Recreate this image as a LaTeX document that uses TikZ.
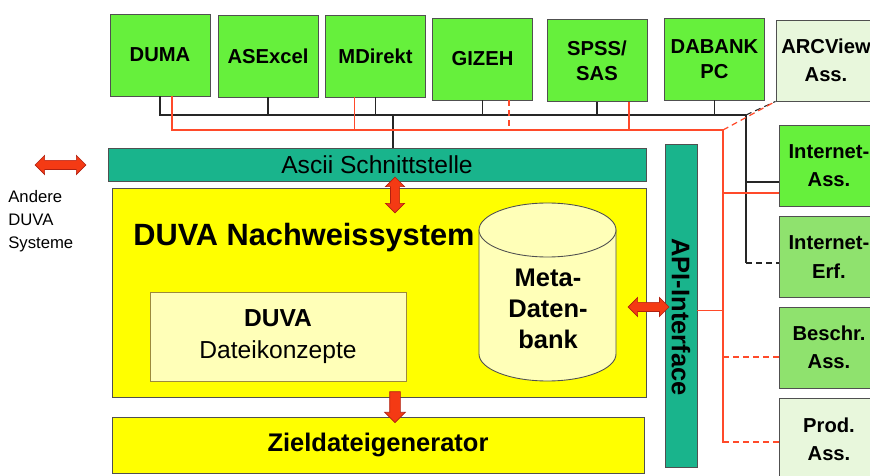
\documentclass[tikz,border=0pt]{standalone}
\usepackage{fontspec}
\setmainfont{Liberation Sans}
\usetikzlibrary{calc,shapes.arrows}
\definecolor{gbright}{HTML}{66F03C}
\definecolor{gmid}{HTML}{8FE26E}
\definecolor{glight}{HTML}{E8F7DC}
\definecolor{tealbar}{HTML}{19B48C}
\definecolor{yel}{HTML}{FFFF00}
\definecolor{paleyel}{HTML}{FFFFB8}
\definecolor{boxline}{HTML}{505050}
\definecolor{oliveline}{HTML}{9C8A3C}
\definecolor{linered}{HTML}{FF4A2A}
\definecolor{arrred}{HTML}{F43A14}
\definecolor{arrdark}{HTML}{B02010}
\tikzset{box/.style={rectangle,draw=boxline,line width=0.5pt,inner sep=1pt,align=center,font=\bfseries\fontsize{11.5}{14}\selectfont}}
\tikzset{tb/.style={box,fill=gbright,minimum width=2cm,minimum height=1.64cm}}
\tikzset{rb/.style={box,minimum width=2cm,minimum height=1.62cm,font=\bfseries\fontsize{11.5}{16}\selectfont}}
\tikzset{bar/.style={rectangle,draw=boxline,line width=0.5pt,fill=tealbar,inner sep=0pt}}
\tikzset{ybox/.style={rectangle,draw=boxline,line width=0.5pt,fill=yel,inner sep=0pt}}
\tikzset{bl/.style={draw=black!85,line width=0.6pt}}
\tikzset{rl/.style={draw=linered,line width=0.7pt}}
\tikzset{dsh/.style={dash pattern=on 3.4pt off 2.3pt}}
\tikzset{dblarr/.style={double arrow,fill=arrred,draw=arrdark,line width=0.4pt,inner sep=0pt,text height=0.085cm,text depth=0.085cm,double arrow head extend=0.1cm}}
\tikzset{sglarr/.style={single arrow,fill=arrred,draw=arrdark,line width=0.4pt,inner sep=0pt,text height=0.1cm,text depth=0.1cm,single arrow head extend=0.1cm}}

\begin{document}
\begin{tikzpicture}[x=0.02cm,y=-0.02cm]
\useasboundingbox (0,0) rectangle (870,476);
% top row
\node[tb] (duma) at (160,55) {DUMA};
\node[tb] (asexcel) at (268,56) {ASExcel};
\node[tb] (mdirekt) at (375.5,56) {MDirekt};
\node[tb] (gizeh) at (482.5,59) {GIZEH};
\node[tb] (spss) at (597,60.5) {SPSS/\\SAS};
\node[tb] (dabank) at (714.5,59) {DABANK\\PC};
\node[rb,fill=glight] (arc) at (826,60.5) {ARCView\\Ass.};
% right column
\node[rb,fill=gbright] (iass) at (829,166) {Internet-\\Ass.};
\node[rb,fill=gmid] (ierf) at (829,257) {Internet-\\Erf.};
\node[rb,fill=gmid] (besch) at (829,347.5) {Beschr.\\Ass.};
\node[rb,fill=glight] (prod) at (829,439) {Prod.\\Ass.};
% middle
\node[bar,minimum width=10.76cm,minimum height=0.66cm,font=\fontsize{14}{16}\selectfont] (ascii) at (377,164.5) {Ascii Schnittstelle};
\node[bar,minimum width=0.64cm,minimum height=6.46cm] (api) at (681,305.5) {};
\node[rotate=-90,inner sep=0pt,font=\bfseries\fontsize{14.5}{16}\selectfont] (apilbl) at (681,317) {API-Interface};
\node[ybox,minimum width=10.68cm,minimum height=4.18cm] (duva) at (379,292.5) {};
\node[anchor=west,inner sep=0pt,font=\bfseries\fontsize{17.5}{20}\selectfont] (title) at (133,238) {DUVA Nachweissystem};
\node[rectangle,draw=oliveline,line width=0.5pt,fill=paleyel,minimum width=5.12cm,minimum height=1.78cm,align=center,font=\fontsize{14}{18}\selectfont] (datei) at (278,336.5) {\textbf{DUVA}\\Dateikonzepte};
% cylinder
\filldraw[draw=boxline,line width=0.5pt,fill=paleyel] (479,230) -- (479,354) arc[start angle=180,end angle=0,x radius=68.5,y radius=27] -- (616,230) -- cycle;
\filldraw[draw=boxline,line width=0.5pt,fill=paleyel] (547.5,230) ellipse [x radius=68.5,y radius=27];
\node[align=center,inner sep=0pt,font=\bfseries\fontsize{14.5}{17.5}\selectfont] (meta) at (548,309) {Meta-\\Daten-\\bank};
\node[ybox,minimum width=10.64cm,minimum height=1.12cm,font=\bfseries\fontsize{14.5}{16}\selectfont] (ziel) at (378,445) {Zieldateigenerator};
\node[anchor=north west,align=left,inner sep=0pt,font=\fontsize{9.5}{13}\selectfont] (andere) at (8,190) {Andere\\DUVA\\Systeme};
% bus lines
\coordinate (busR) at (746,115);
\coordinate (busJ) at (393,115);
\coordinate (busD) at (746,263);
\coordinate (redR) at (723,130);
\coordinate (redB) at (723,443);
\draw[bl] (duma.south) |- (busR);
\foreach \n in {asexcel,mdirekt,gizeh,spss,dabank} \draw[bl] (\n.south) -- (\n.south |- busR);
\draw[bl] (busJ) -- (ascii.north -| busJ);
\draw[bl] (busR) -- (busD);
\draw[bl,dsh] (busD) -- (busD -| ierf.west);
\draw[bl,dsh] (busR) -- (arc.south west);
\draw[bl] (iass.west) ++(0,16) coordinate (ib) -- (ib -| busR);
\draw[rl] (duma.south) ++(12,0) |- (redR) -- (redB);
\draw[rl] (mdirekt.south) ++(-21,0) coordinate (mr) -- (mr |- redR);
\draw[rl,dsh] (gizeh.south) ++(26.5,0) coordinate (gr) -- ++(0,26);
\draw[rl] (spss.south) ++(32,0) coordinate (sr) -- (sr |- redR);
\draw[rl,dsh] (redR) -- (arc.south west);
\draw[rl] (iass.west) ++(0,27) coordinate (ir) -- (ir -| redR);
\draw[rl] (api.east) ++(0,5) coordinate (ar) -- (ar -| redR);
\draw[rl,dsh] (besch.west) ++(0,9.5) coordinate (br) -- (br -| redR);
\draw[rl,dsh] (prod.west) ++(0,3) coordinate (pr) -- (pr -| redR);
% block arrows
\node[dblarr,minimum height=1.02cm] (arrandere) at (60.5,165) {};
\node[dblarr,minimum height=0.72cm,rotate=90] (arrascii) at (395,195) {};
\node[dblarr,minimum height=0.82cm] (arrmeta) at (648.5,307) {};
\node[sglarr,minimum height=0.62cm,rotate=-90] (arrziel) at (395,404.5) {};
\end{tikzpicture}
\end{document}
